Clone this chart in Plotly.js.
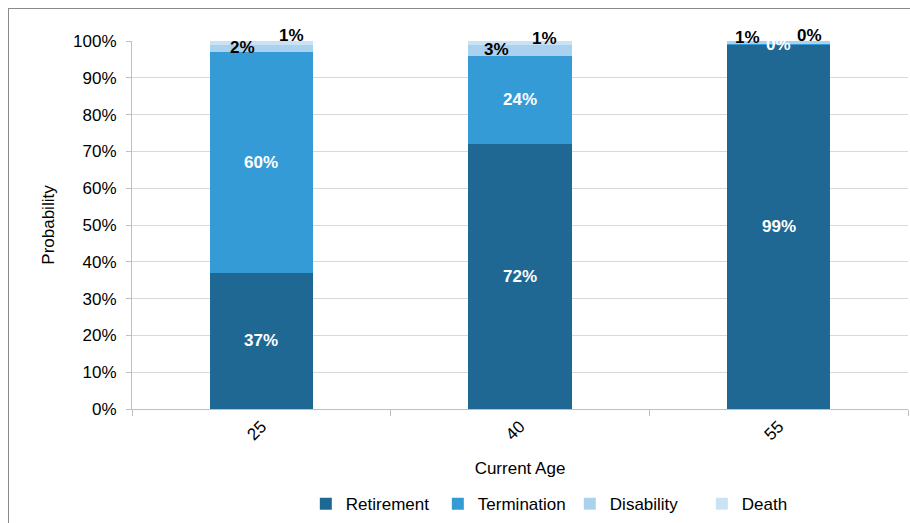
<!DOCTYPE html>
<html>
<head>
<meta charset="utf-8">
<script src="https://cdn.plot.ly/plotly-3.0.1.min.js"></script>
<style>
  html, body { margin: 0; padding: 0; background: #ffffff; overflow: hidden; }
  #chart { width: 910px; height: 523px; position: relative; }
  #frame {
    position: absolute; left: 8px; top: 8px; width: 920px; height: 530px;
    border-left: 1px solid #8a8a8a; border-top: 1px solid #8a8a8a;
    pointer-events: none;
  }
</style>
</head>
<body>
<div id="chart"></div>
<div id="frame"></div>
<script>
// Probability of each decrement, by current age (percent)
const ages = ['25', '40', '55'];
const retirement  = [37, 72, 99];
const termination = [60, 24, 0.3];
const disability  = [2, 3, 0.6];
const death       = [1, 1, 0.1];

const seriesNames = ['Retirement', 'Termination', 'Disability', 'Death'];
const seriesColors = ['#1f6894', '#349bd7', '#aad2ee', '#c9e3f4'];
const seriesValues = [retirement, termination, disability, death];

// Offsets (px) for the small-segment labels that sit above the bars
const smallLabelShift = {
  Disability: { x: [-19, -24, -31], y: [-1, -1, -5] },
  Death:      { x: [30, 24, 31],    y: [-7, -4, -6] }
};

const font = 'Liberation Sans, Arial, Helvetica, sans-serif';
const fs = 17;

const traces = seriesNames.map((name, i) => ({
  type: 'bar',
  name: name,
  x: ages,
  y: seriesValues[i],
  width: 0.4,
  marker: { color: seriesColors[i], line: { width: 0 } },
  hoverinfo: 'x+y+name'
}));

// Data labels centred on each segment, computed from the cumulative stack
const annotations = [];
ages.forEach((age, j) => {
  let base = 0;
  seriesValues.forEach((vals, i) => {
    const v = vals[j];
    const mid = base + v / 2;
    base += v;
    const name = seriesNames[i];
    const small = smallLabelShift[name];
    annotations.push({
      x: j, y: mid, xref: 'x', yref: 'y',
      text: Math.round(v) + '%',
      showarrow: false,
      xshift: small ? small.x[j] : 0,
      yshift: small ? -small.y[j] : 0,
      font: { family: font, size: fs, color: small ? '#000000' : '#ffffff', weight: 'bold' }
    });
  });
});

const layout = {
  width: 910, height: 523,
  margin: { l: 132, r: 2, t: 41, b: 113, pad: 0 },
  paper_bgcolor: '#ffffff', plot_bgcolor: '#ffffff',
  barmode: 'stack',
  font: { family: font, size: fs, color: '#000000' },
  showlegend: true,
  legend: {
    orientation: 'h', x: 0.224, xanchor: 'left', y: -0.255, yanchor: 'middle',
    entrywidth: 87, entrywidthmode: 'pixels',
    font: { family: font, size: fs, color: '#000000' },
    traceorder: 'normal', itemclick: false, itemdoubleclick: false
  },
  xaxis: {
    type: 'category',
    range: [-0.5, 2.5], autorange: false,
    title: { text: 'Current Age', font: { family: font, size: fs }, standoff: 18 },
    tickangle: -45,
    tickfont: { family: font, size: fs },
    showline: true, linecolor: '#bfbfbf', linewidth: 1,
    ticks: 'outside', ticklen: 6, tickcolor: '#bfbfbf', tickson: 'boundaries',
    showgrid: false, zeroline: false
  },
  yaxis: {
    range: [0, 100], autorange: false, dtick: 10, ticksuffix: '%',
    title: { text: 'Probability', font: { family: font, size: fs }, standoff: 14 },
    tickfont: { family: font, size: fs },
    ticklabelstandoff: 6,
    showline: true, linecolor: '#bfbfbf', linewidth: 1,
    ticks: 'outside', ticklen: 5, tickcolor: '#bfbfbf',
    showgrid: true, gridcolor: '#d9d9d9', gridwidth: 1, zeroline: false
  },
  annotations: annotations
};

Plotly.newPlot('chart', traces, layout, { displayModeBar: false, staticPlot: true });
</script>
</body>
</html>
